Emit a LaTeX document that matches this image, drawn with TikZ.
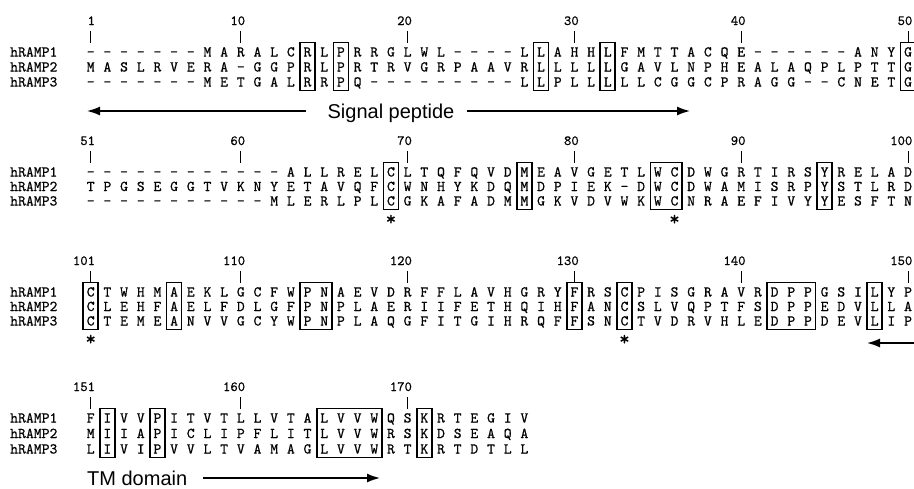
\documentclass[tikz,border=0pt]{standalone}
\usepackage{fontspec}
\newfontfamily\labfont{Liberation Sans}
\newfontfamily\seqfont{lmmono10-regular.otf}[FakeBold=0.6]
\usetikzlibrary{arrows.meta}
\newcommand\seqrow[3]{\foreach \resid [count=\i] in {#3} {\node[res] (#1-\i) at ({90.7+(\i-1)*16.68},#2) {\resid};}}
\newcommand\seqbox[3]{\draw[seqframe] ([xshift=-7.5pt,yshift=9.5pt]#1-1-#2.center) rectangle ([xshift=7.5pt,yshift=-8.5pt]#1-3-#3.center);}
\newcommand\seqtick[3]{\draw[ticks] ([yshift=21pt]#1-1-#2.center) -- ([yshift=9pt]#1-1-#2.center);
  \node[num, anchor=base east] (num-#3) at ([xshift=4.5pt,yshift=27pt]#1-1-#2.center) {#3};}
\newcommand\seqast[2]{\node[star] (ast-#1-#2) at ([yshift=-19pt]#1-3-#2.center) {*};}
\begin{document}
\begin{tikzpicture}[x=1pt,y=-1pt,
  res/.style={font=\seqfont\fontsize{15}{15}\selectfont, inner sep=0pt, text height=9pt, text depth=0pt, anchor=center},
  star/.style={font=\seqfont\fontsize{20}{20}\selectfont, inner sep=0pt, anchor=center},
  rowlab/.style={font=\seqfont\fontsize{15}{15}\selectfont, inner sep=0pt, text height=9pt, text depth=0pt, anchor=west},
  num/.style={font=\seqfont\fontsize{14}{14}\selectfont, inner sep=0pt},
  seqframe/.style={draw=black, line width=1.6pt},
  ticks/.style={draw=black, line width=0.8pt},
  arr/.style={draw=black, line width=1.5pt, -{Latex[length=13pt,width=9pt]}},
  title/.style={font=\labfont\fontsize{20}{20}\selectfont, inner sep=0pt}
]
\useasboundingbox (0,0) rectangle (914,488);

% ---------- block 1 ----------
\node[rowlab] (l1a) at (10,52) {hRAMP1};
\node[rowlab] (l1b) at (10,67) {hRAMP2};
\node[rowlab] (l1c) at (10,82) {hRAMP3};
\seqrow{1-1}{52}{-,-,-,-,-,-,-,M,A,R,A,L,C,R,L,P,R,R,G,L,W,L,-,-,-,-,L,L,A,H,H,L,F,M,T,T,A,C,Q,E,-,-,-,-,-,-,A,N,Y,G}
\seqrow{1-2}{67}{M,A,S,L,R,V,E,R,A,-,G,G,P,R,L,P,R,T,R,V,G,R,P,A,A,V,R,L,L,L,L,L,G,A,V,L,N,P,H,E,A,L,A,Q,P,L,P,T,T,G}
\seqrow{1-3}{82}{-,-,-,-,-,-,-,M,E,T,G,A,L,R,R,P,Q,-,-,-,-,-,-,-,-,-,L,L,P,L,L,L,L,L,C,G,G,C,P,R,A,G,G,-,-,C,N,E,T,G}
\seqtick{1}{1}{1}\seqtick{1}{10}{10}\seqtick{1}{20}{20}\seqtick{1}{30}{30}\seqtick{1}{40}{40}\seqtick{1}{50}{50}
\seqbox{1}{14}{14}\seqbox{1}{16}{16}\seqbox{1}{28}{28}\seqbox{1}{32}{32}\seqbox{1}{50}{50}

% signal peptide
\coordinate (sp-tip) at (87,111);
\coordinate (sp-ls) at (306,111);
\node[title, anchor=base] (sp) at (391,118) {Signal peptide};
\coordinate (sp-rs) at (467,111);
\coordinate (sp-rtip) at (690,111);
\draw[arr] (sp-ls) -- (sp-tip);
\draw[arr] (sp-rs) -- (sp-rtip);

% ---------- block 2 ----------
\node[rowlab] (l2a) at (10,172) {hRAMP1};
\node[rowlab] (l2b) at (10,186.5) {hRAMP2};
\node[rowlab] (l2c) at (10,201) {hRAMP3};
\seqrow{2-1}{172}{-,-,-,-,-,-,-,-,-,-,-,-,A,L,L,R,E,L,C,L,T,Q,F,Q,V,D,M,E,A,V,G,E,T,L,W,C,D,W,G,R,T,I,R,S,Y,R,E,L,A,D}
\seqrow{2-2}{186.5}{T,P,G,S,E,G,G,T,V,K,N,Y,E,T,A,V,Q,F,C,W,N,H,Y,K,D,Q,M,D,P,I,E,K,-,D,W,C,D,W,A,M,I,S,R,P,Y,S,T,L,R,D}
\seqrow{2-3}{201}{-,-,-,-,-,-,-,-,-,-,-,M,L,E,R,L,P,L,C,G,K,A,F,A,D,M,M,G,K,V,D,V,W,K,W,C,N,R,A,E,F,I,V,Y,Y,E,S,F,T,N}
\seqtick{2}{1}{51}\seqtick{2}{10}{60}\seqtick{2}{20}{70}\seqtick{2}{30}{80}\seqtick{2}{40}{90}\seqtick{2}{50}{100}
\seqbox{2}{19}{19}\seqbox{2}{27}{27}\seqbox{2}{35}{36}\seqbox{2}{45}{45}
\seqast{2}{19}\seqast{2}{36}

% ---------- block 3 ----------
\node[rowlab] (l3a) at (10,292) {hRAMP1};
\node[rowlab] (l3b) at (10,306.5) {hRAMP2};
\node[rowlab] (l3c) at (10,321) {hRAMP3};
\seqrow{3-1}{292}{C,T,W,H,M,A,E,K,L,G,C,F,W,P,N,A,E,V,D,R,F,F,L,A,V,H,G,R,Y,F,R,S,C,P,I,S,G,R,A,V,R,D,P,P,G,S,I,L,Y,P}
\seqrow{3-2}{306.5}{C,L,E,H,F,A,E,L,F,D,L,G,F,P,N,P,L,A,E,R,I,I,F,E,T,H,Q,I,H,F,A,N,C,S,L,V,Q,P,T,F,S,D,P,P,E,D,V,L,L,A}
\seqrow{3-3}{321}{C,T,E,M,E,A,N,V,V,G,C,Y,W,P,N,P,L,A,Q,G,F,I,T,G,I,H,R,Q,F,F,S,N,C,T,V,D,R,V,H,L,E,D,P,P,D,E,V,L,I,P}
\seqtick{3}{1}{101}\seqtick{3}{10}{110}\seqtick{3}{20}{120}\seqtick{3}{30}{130}\seqtick{3}{40}{140}\seqtick{3}{50}{150}
\seqbox{3}{1}{1}\seqbox{3}{6}{6}\seqbox{3}{14}{15}\seqbox{3}{30}{30}\seqbox{3}{33}{33}\seqbox{3}{42}{44}\seqbox{3}{48}{48}
\seqast{3}{1}\seqast{3}{33}

% TM domain start arrow
\coordinate (tm-s) at (914,343);
\coordinate (tm-tip) at (867,343);
\draw[arr] (tm-s) -- (tm-tip);

% ---------- block 4 ----------
\node[rowlab] (l4a) at (10,418) {hRAMP1};
\node[rowlab] (l4b) at (10,433.5) {hRAMP2};
\node[rowlab] (l4c) at (10,449) {hRAMP3};
\seqrow{4-1}{418}{F,I,V,V,P,I,T,V,T,L,L,V,T,A,L,V,V,W,Q,S,K,R,T,E,G,I,V}
\seqrow{4-2}{433.5}{M,I,I,A,P,I,C,L,I,P,F,L,I,T,L,V,V,W,R,S,K,D,S,E,A,Q,A}
\seqrow{4-3}{449}{L,I,V,I,P,V,V,L,T,V,A,M,A,G,L,V,V,W,R,T,K,R,T,D,T,L,L}
\seqtick{4}{1}{151}\seqtick{4}{10}{160}\seqtick{4}{20}{170}
\seqbox{4}{2}{2}\seqbox{4}{5}{5}\seqbox{4}{15}{18}\seqbox{4}{21}{21}

\node[title, anchor=base west] (tm) at (87,485) {TM domain};
\coordinate (tm-rs) at (203,478);
\coordinate (tm-rtip) at (380,478);
\draw[arr] (tm-rs) -- (tm-rtip);
\end{tikzpicture}
\end{document}
